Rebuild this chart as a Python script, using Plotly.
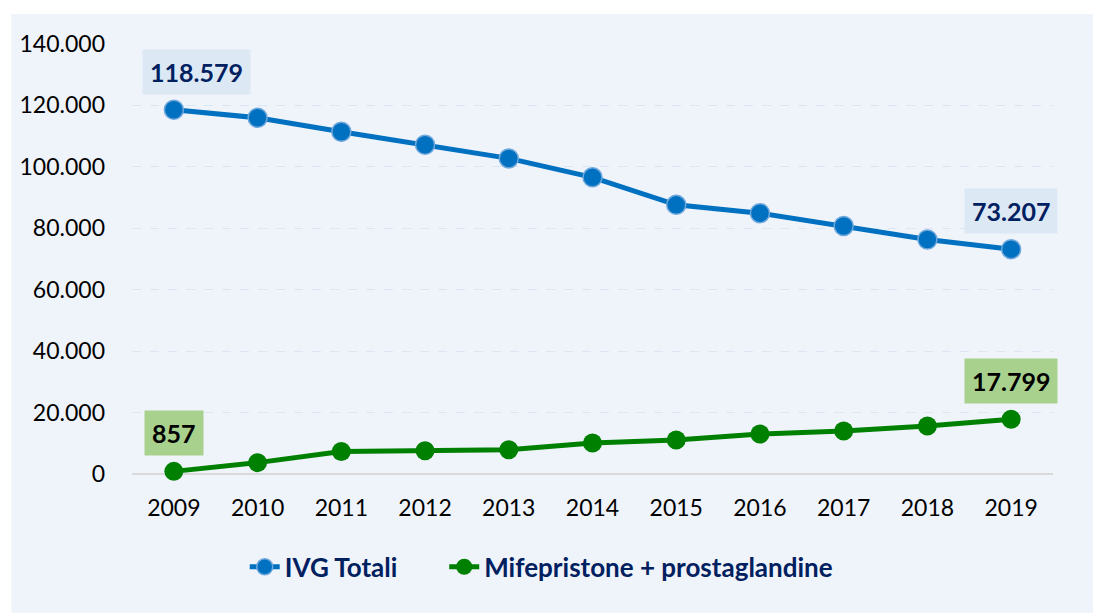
import plotly.graph_objects as go

years = ["2009", "2010", "2011", "2012", "2013", "2014", "2015", "2016", "2017", "2018", "2019"]
ivg_totali = [118579, 115981, 111415, 107192, 102760, 96578, 87639, 84926, 80733, 76328, 73207]
mifepristone = [857, 3700, 7300, 7600, 7900, 10100, 11100, 13000, 14000, 15600, 17799]
y_ticks = [0, 20000, 40000, 60000, 80000, 100000, 120000, 140000]
y_tick_labels = ["0", "20.000", "40.000", "60.000", "80.000", "100.000", "120.000", "140.000"]

FONT = "Lato"
BG = "#EFF3FA"
NAVY = "#002060"

fig = go.Figure()
fig.add_trace(go.Scatter(
    x=years, y=ivg_totali, name="IVG Totali", mode="lines+markers",
    line=dict(color="#0070C0", width=5),
    marker=dict(size=19, color="#0070C0", line=dict(color="#6FA8DC", width=1.5)),
    cliponaxis=False, legend="legend",
))
fig.add_trace(go.Scatter(
    x=years, y=mifepristone, name="Mifepristone + prostaglandine", mode="lines+markers",
    line=dict(color="#008000", width=5),
    marker=dict(size=19, color="#008000"),
    cliponaxis=False, legend="legend2",
))

def fmt(v):
    return f"{v:,}".replace(",", ".")

last = len(years) - 1
labels = [
    (0, ivg_totali[0], 23, NAVY, "#DDE8F5"),
    (last, ivg_totali[last], 0, NAVY, "#DDE8F5"),
    (0, mifepristone[0], 0, "#000000", "#A9D18E"),
    (last, mifepristone[last], 0, "#000000", "#A9D18E"),
]
for xi, y, xs, fc, bg in labels:
    fig.add_annotation(
        x=xi, y=y, text=f"<b>{fmt(y)}</b>", showarrow=False,
        xshift=xs, yshift=38, bgcolor=bg, borderpad=7,
        font=dict(family=FONT, size=25, color=fc),
    )

fig.add_shape(type="rect", xref="paper", yref="paper",
              x0=-0.1311, x1=1.07, y0=-0.35, y1=1.0698,
              fillcolor=BG, line=dict(width=0), layer="below")

leg_font = dict(family=FONT, size=26, color=NAVY, weight="bold")
fig.update_layout(
    width=1101, height=613,
    margin=dict(l=122, r=56, t=36, b=147),
    paper_bgcolor="white", plot_bgcolor=BG,
    font=dict(family=FONT, size=23, color="#000000"),
    showlegend=True,
    legend=dict(orientation="h", x=0.1224, xanchor="left", y=-0.216, yanchor="middle",
                font=leg_font, bgcolor="rgba(0,0,0,0)"),
    legend2=dict(orientation="h", x=0.339, xanchor="left", y=-0.216, yanchor="middle",
                 font=leg_font, bgcolor="rgba(0,0,0,0)"),
    xaxis=dict(type="category", showgrid=False, showline=False, zeroline=False,
               ticks="", tickfont=dict(family=FONT, size=23, color="#000000"),
               ticklabelstandoff=18, range=[-0.5, 10.5]),
    yaxis=dict(range=[0, 140000], tickvals=y_ticks, ticktext=y_tick_labels,
               showgrid=True, gridcolor="#DCE6F2", griddash="dash", gridwidth=1,
               zeroline=True, zerolinecolor="#D9D9D9", zerolinewidth=2,
               showline=False, ticks="", ticklabelstandoff=26,
               tickfont=dict(family=FONT, size=23, color="#000000")),
)

fig.write_html("out.html")
